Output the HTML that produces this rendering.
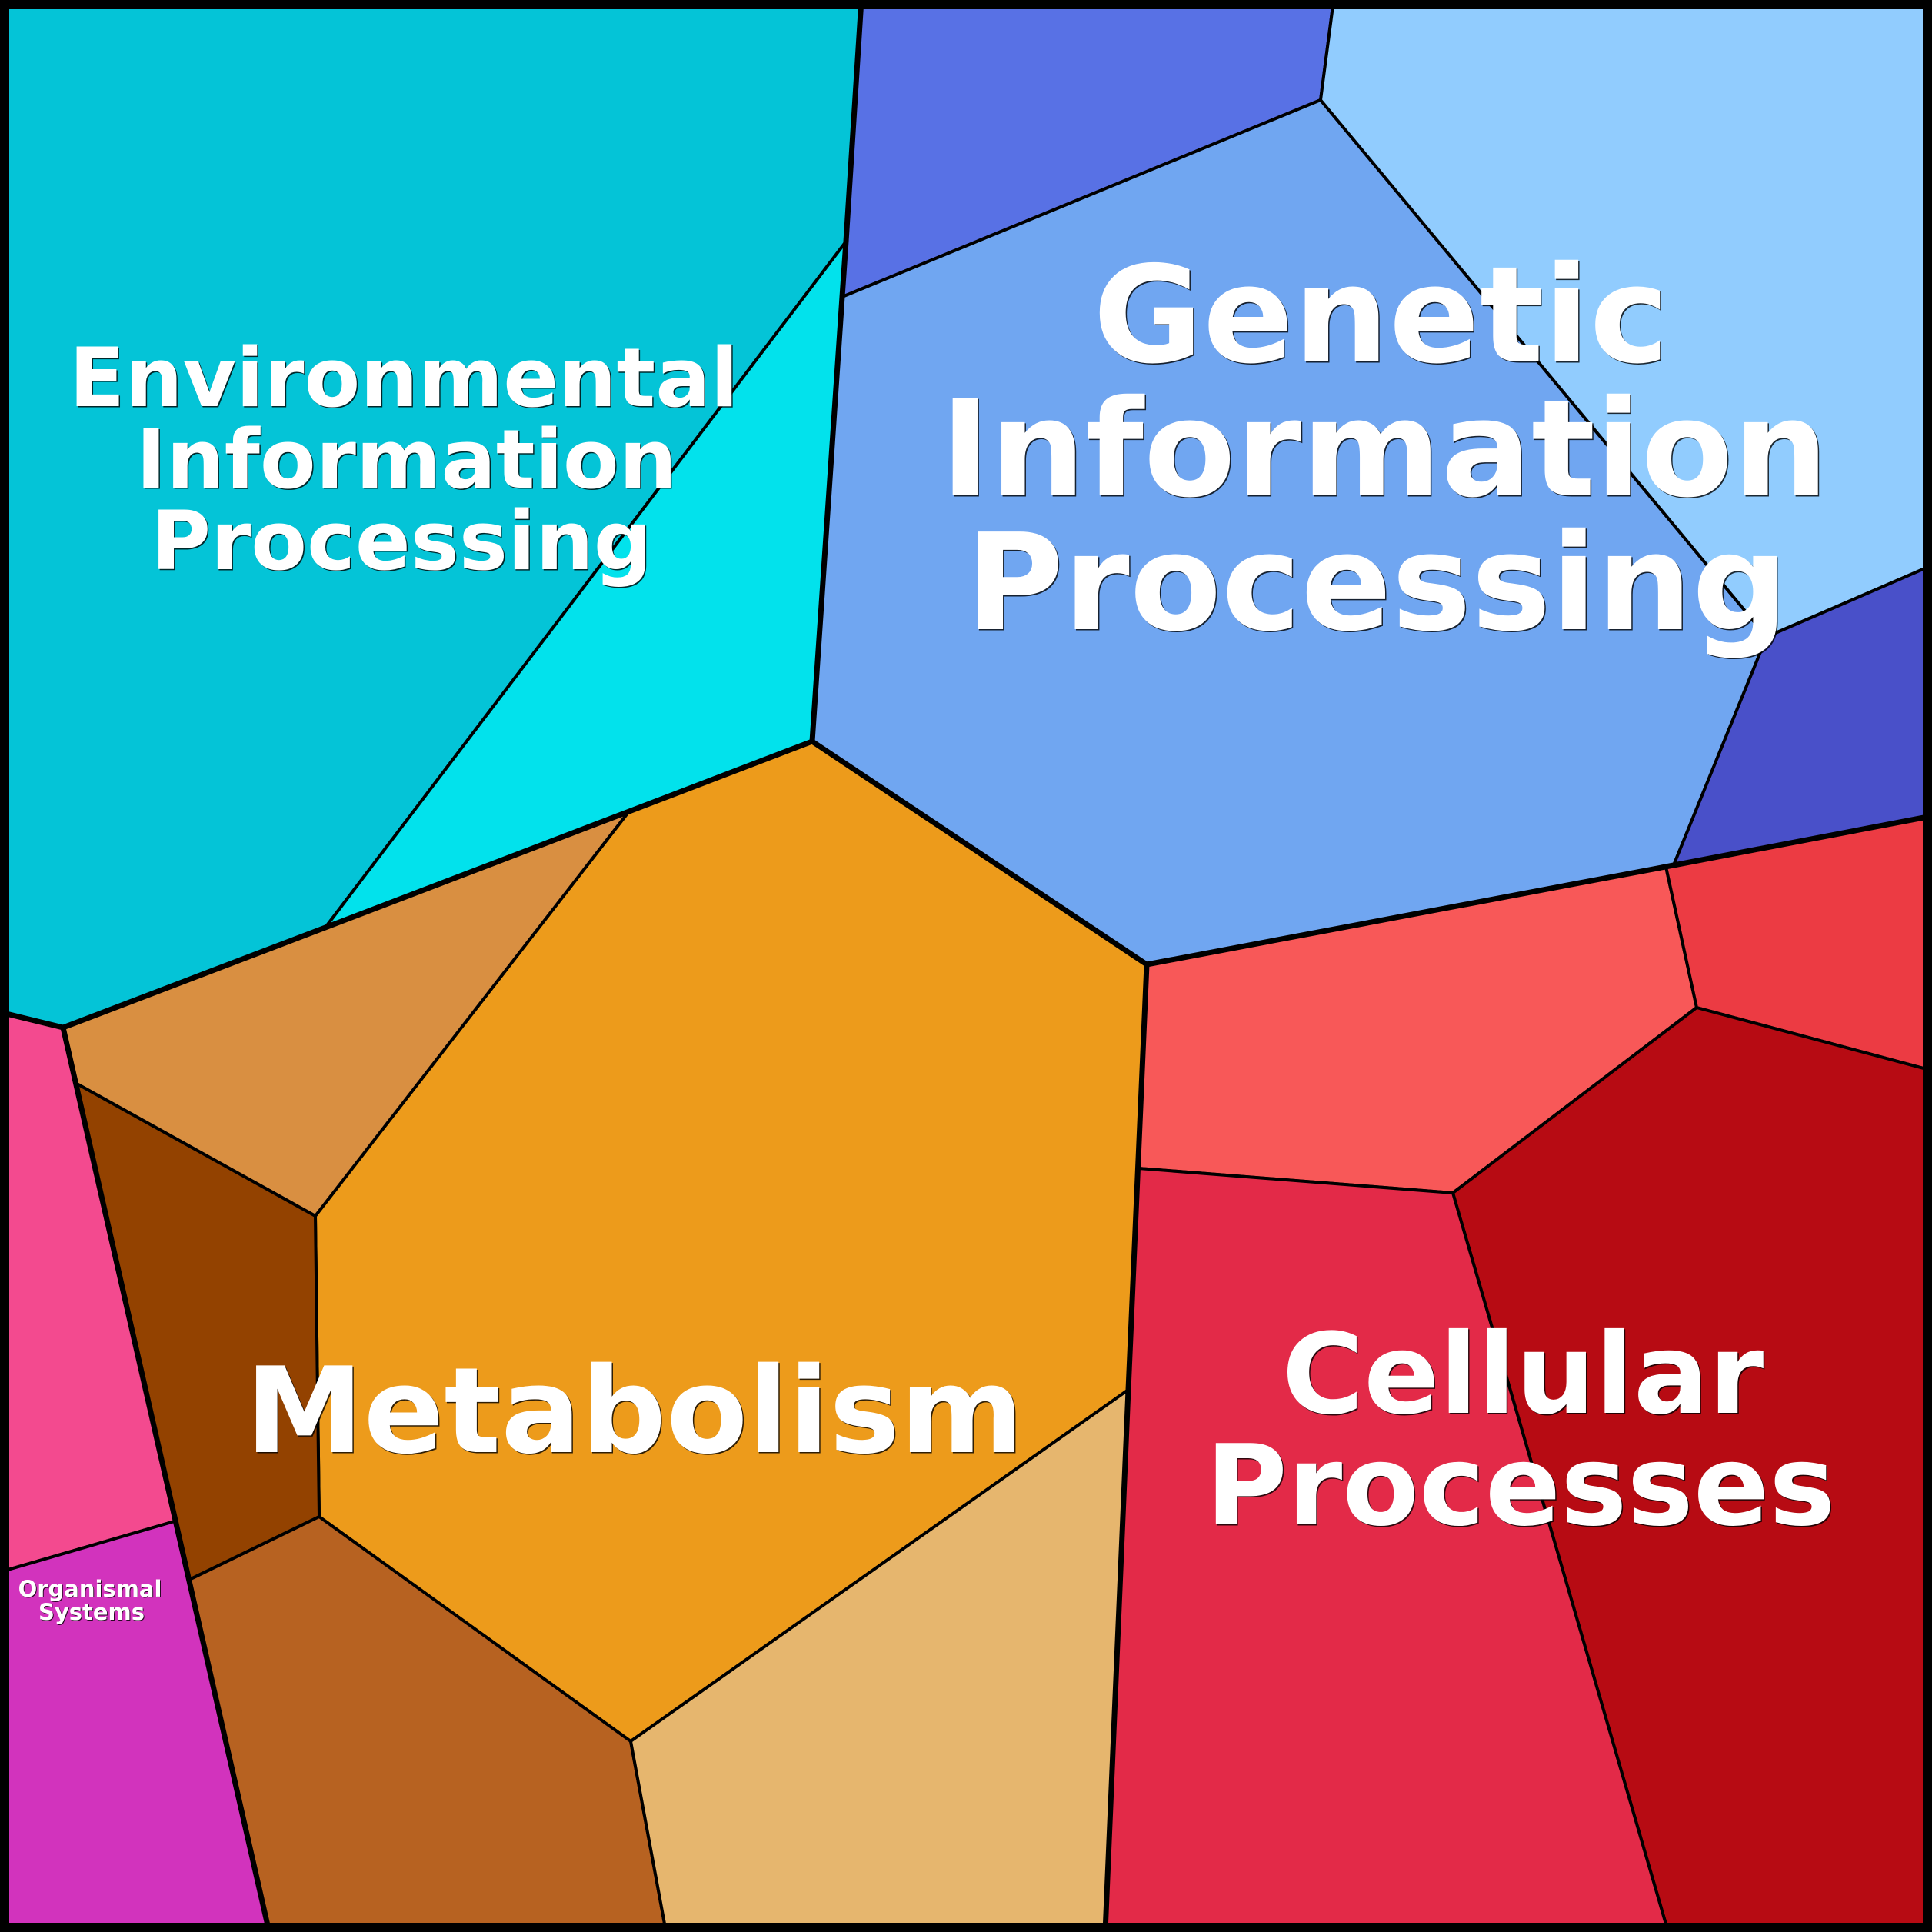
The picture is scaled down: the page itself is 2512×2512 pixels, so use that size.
<!DOCTYPE html>
<html><head><meta charset="utf-8"><style>
html,body{margin:0;padding:0;background:#000}
svg{display:block}
text{font-family:"DejaVu Sans",sans-serif;font-weight:700;text-anchor:middle}
.s{fill:#000;opacity:.8}
.w{fill:#fff}
</style></head><body>
<svg xmlns="http://www.w3.org/2000/svg" width="2512" height="2512" viewBox="0 0 2512 2512">
<g stroke="#000" stroke-width="4" stroke-linejoin="round">
<polygon fill="#04C4D7" points="0,0 1120,0 1100,314 423,1206 82,1336 0,1316"/>
<polygon fill="#02E2EC" points="1100,314 1056,964 817,1056 423,1206"/>
<polygon fill="#5871E5" points="1120,0 1734,0 1717,130 1095,386"/>
<polygon fill="#70A6F1" points="1095,386 1717,130 2297,828 2176,1125 1491,1254 1056,964"/>
<polygon fill="#91CCFE" points="1734,0 2512,0 2512,735 2297,828 1717,130"/>
<polygon fill="#4950C9" points="2297,828 2512,735 2512,1061 2176,1125"/>
<polygon fill="#F85858" points="1491,1254 2166,1127 2206,1310 1889,1551 1480,1519"/>
<polygon fill="#EC3B43" points="2166,1127 2512,1061 2512,1392 2206,1310"/>
<polygon fill="#B70B13" points="2206,1310 2512,1392 2512,2512 2169,2512 1889,1551"/>
<polygon fill="#E32A48" points="1480,1519 1889,1551 2169,2512 1437,2512"/>
<polygon fill="#ED9B1B" points="817,1056 1056,964 1491,1254 1467,1807 820,2264 415,1972 410,1581"/>
<polygon fill="#D98F41" points="82,1336 423,1206 817,1056 410,1581 98,1408"/>
<polygon fill="#934200" points="98,1408 410,1581 415,1972 246,2054"/>
<polygon fill="#B76221" points="246,2054 415,1972 820,2264 866,2512 350,2512"/>
<polygon fill="#E6B66E" points="820,2264 1467,1807 1437,2512 866,2512"/>
<polygon fill="#F34A8F" points="0,1316 82,1336 227,1978 0,2044"/>
<polygon fill="#D233BD" points="0,2044 227,1978 350,2512 0,2512"/>
</g>
<g fill="none" stroke="#000" stroke-width="7" stroke-linejoin="round">
<polyline points="1120,0 1100,314 1095,386 1056,964 423,1206 82,1336 350,2512"/>
<polyline points="1056,964 1491,1254 2176,1125 2512,1061"/>
<polyline points="1491,1254 1467,1807 1437,2512"/>
<polyline points="0,1316 82,1336"/>
</g>
<rect x="6" y="6" width="2500" height="2500" fill="none" stroke="#000" stroke-width="12"/>
<g font-size="106">
<text class="s" x="526.5" y="529.5">Environmental</text><text class="w" x="525" y="528">Environmental</text>
<text class="s" x="530" y="635.5">Information</text><text class="w" x="528.5" y="634">Information</text>
<text class="s" x="523.5" y="741.5">Processing</text><text class="w" x="522" y="740">Processing</text>
</g>
<g font-size="174">
<text class="s" x="1797" y="471.5">Genetic</text><text class="w" x="1795.5" y="470">Genetic</text>
<text class="s" x="1801.5" y="645.5">Information</text><text class="w" x="1800" y="644">Information</text>
<text class="s" x="1791.5" y="819.5">Processing</text><text class="w" x="1790" y="818">Processing</text>
</g>
<g font-size="154.5">
<text class="s" x="826.5" y="1889.5">Metabolism</text><text class="w" x="825" y="1888">Metabolism</text>
</g>
<g font-size="145">
<text class="s" x="1981.5" y="1838.5">Cellular</text><text class="w" x="1980" y="1837">Cellular</text>
<text class="s" x="1978.5" y="1983.5">Processes</text><text class="w" x="1977" y="1982">Processes</text>
</g>
<g font-size="29">
<text class="s" x="118" y="2077">Organismal</text><text class="w" x="117" y="2076">Organismal</text>
<text class="s" x="120" y="2107">Systems</text><text class="w" x="119" y="2106">Systems</text>
</g>
</svg>
</body></html>
